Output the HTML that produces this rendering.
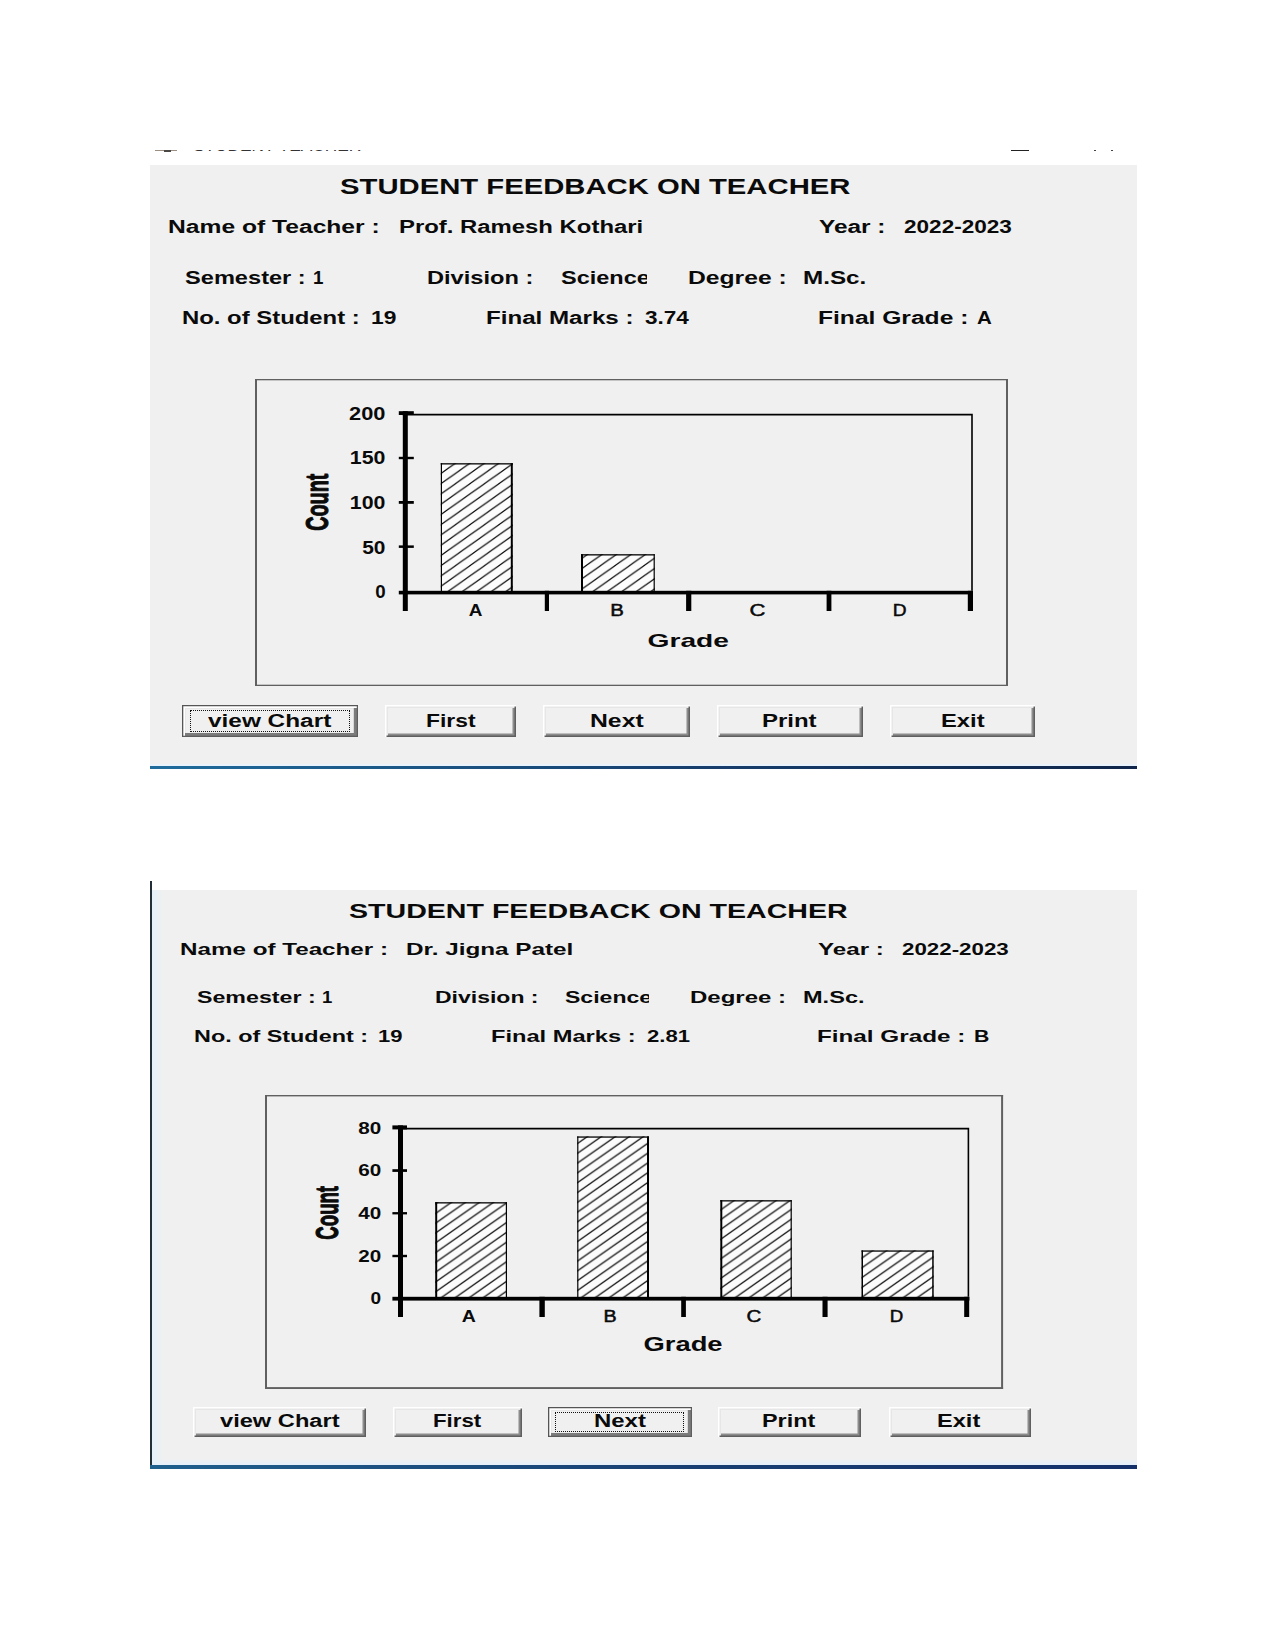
<!DOCTYPE html>
<html lang="en"><head><meta charset="utf-8"><title>Student Feedback on Teacher</title>
<style>
html,body{margin:0;padding:0;background:#fff}
body{width:1275px;height:1650px;position:relative;overflow:hidden;font-family:"Liberation Sans",Arial,sans-serif;color:#0a0a0a}
.win{position:absolute;background:#f0f0f0}
.l,h1.l{position:absolute;margin:0;font-weight:bold;white-space:nowrap;line-height:24px;transform-origin:0 50%;letter-spacing:0}
.clip{position:absolute;height:24px;overflow:hidden}
.chart{position:absolute;overflow:visible}
.chart text{font-family:"Liberation Sans",Arial,sans-serif;fill:#0a0a0a}
.btn{position:absolute;box-sizing:border-box;margin:0;padding:0;background:#f0f0f0;font:inherit;color:inherit;border:0;overflow:hidden;
 box-shadow:inset 1.5px 1.5px 0 #fff,inset -1.5px -1.5px 0 #5f5f5f,inset 3px 3px 0 #e6e6e6,inset -3.5px -3.5px 0 #8c8c8c}
.btn.foc{box-shadow:inset 1.3px 1.3px 0 #555,inset -1.2px -1.2px 0 #5e5e5e,inset 3px 3px 0 #fff,inset -4.2px -4px 0 #7c7c7c,inset 4px 4px 0 #e8e8e8}
.dots{position:absolute;border:1.4px dotted #111;box-sizing:border-box}
.tb{position:absolute;overflow:hidden}
.tt{position:absolute;left:42.8px;top:-12.2px;font-size:17px;line-height:17px;white-space:nowrap;color:#333;transform-origin:0 0;transform:scaleX(1.015)}
</style></head>
<body>
<div class="tb" style="left:150px;top:149.6px;width:987px;height:2.3px"><i style="position:absolute;left:5px;top:.3px;width:22px;height:1.6px;background:#9a8f80"></i><i style="position:absolute;left:14px;top:.6px;width:7px;height:1.7px;background:#4a4845"></i><span class="tt">STUDENT TEACHER</span><i style="position:absolute;left:861px;top:.2px;width:18px;height:1.4px;background:#222"></i><i style="position:absolute;left:943.5px;top:.2px;width:2.2px;height:1.4px;background:#444"></i><i style="position:absolute;left:960.5px;top:.2px;width:2.2px;height:1.4px;background:#444"></i></div>
<div class="win" id="w1" style="left:150px;top:165px;width:987px;height:604px">
<i style="position:absolute;left:0;right:0;bottom:3px;height:2px;background:#eaf3fb"></i>
<i style="position:absolute;left:0;right:0;bottom:0;height:3px;background:linear-gradient(90deg,#1f6c9c,#173f6e 55%,#10264a)"></i>
<h1 class="l" style="left:189.94px;top:9.91px;font-size:21.34px;transform:scaleX(1.3718)">STUDENT FEEDBACK ON TEACHER</h1>
<span class="l" style="left:18.06px;top:49.54px;font-size:17.78px;transform:scaleX(1.3864)">Name of Teacher :</span>
<span class="l" style="left:248.91px;top:49.54px;font-size:17.78px;transform:scaleX(1.3444)">Prof. Ramesh Kothari</span>
<span class="l" style="left:669.22px;top:49.54px;font-size:17.78px;transform:scaleX(1.3731)">Year :</span>
<span class="l" style="left:754.19px;top:49.54px;font-size:17.78px;transform:scaleX(1.2697)">2022-2023</span>
<span class="l" style="left:34.73px;top:100.84px;font-size:17.78px;transform:scaleX(1.3289)">Semester :</span>
<span class="l" style="left:163.23px;top:100.84px;font-size:17.78px;transform:scaleX(1.0558)">1</span>
<span class="l" style="left:277.32px;top:100.84px;font-size:17.78px;transform:scaleX(1.3288)">Division :</span>
<span class="clip" style="left:410.73px;top:100.84px;width:85.87px"><span class="l" style="left:0;top:0;font-size:17.78px;transform:scaleX(1.3219)">Science</span></span>
<span class="l" style="left:537.66px;top:100.84px;font-size:17.78px;transform:scaleX(1.3885)">Degree :</span>
<span class="l" style="left:653.48px;top:100.84px;font-size:17.78px;transform:scaleX(1.3641)">M.Sc.</span>
<span class="l" style="left:31.91px;top:140.94px;font-size:17.78px;transform:scaleX(1.3441)">No. of Student :</span>
<span class="l" style="left:220.67px;top:140.94px;font-size:17.78px;transform:scaleX(1.2840)">19</span>
<span class="l" style="left:335.79px;top:140.94px;font-size:17.78px;transform:scaleX(1.3581)">Final Marks :</span>
<span class="l" style="left:495.05px;top:140.94px;font-size:17.78px;transform:scaleX(1.2688)">3.74</span>
<span class="l" style="left:668.06px;top:140.94px;font-size:17.78px;transform:scaleX(1.3846)">Final Grade :</span>
<span class="l" style="left:827.48px;top:140.94px;font-size:17.78px;transform:scaleX(1.1534)">A</span>
<svg class="chart" style="left:105.2px;top:213.8px" width="753" height="307" viewBox="0 0 753 307">
<defs><pattern id="h1" width="14.5" height="10.25" patternUnits="userSpaceOnUse" x="194.8" y="200.95"><rect width="14.5" height="10.25" fill="#fcfcfc"/><path d="M-14.5 20.5L29 -10.25M-14.5 10.25L14.5 -10.25M0 20.5L29 0" stroke="#000" stroke-width="1.2" fill="none"/></pattern></defs>
<g fill="#606060"><rect x="0" y="0" width="2" height="307"/><rect x="751" y="0" width="2" height="307"/><rect x="0" y="0" width="753" height="1.3"/><rect x="0" y="305.7" width="753" height="1.3"/></g>
<path d="M147.8 35.6H717V211.8" fill="none" stroke="#000" stroke-width="1.6"/>
<rect x="185.8" y="84.2" width="72" height="128.6" fill="url(#h1)"/>
<rect x="185.8" y="84.2" width="1.2" height="128.6"/><rect x="255.8" y="84.2" width="2" height="128.6"/><rect x="185.8" y="84.2" width="72" height="1.3"/>
<rect x="326" y="175.2" width="73.8" height="37.6" fill="url(#h1)"/>
<rect x="326" y="175.2" width="2" height="37.6"/><rect x="398.6" y="175.2" width="1.2" height="37.6"/><rect x="326" y="175.2" width="73.8" height="1.3"/>
<rect x="147.8" y="32.2" width="5" height="199.8" fill="#000"/>
<rect x="143.8" y="211.8" width="574.2" height="3.6" fill="#000"/>
<rect x="143.8" y="32.2" width="15" height="3.8" fill="#000"/>
<rect x="143.8" y="77.8" width="15" height="2.4" fill="#000"/>
<rect x="143.8" y="122" width="15" height="2.8" fill="#000"/>
<rect x="143.8" y="166.4" width="15" height="2.5" fill="#000"/>
<rect x="289.8" y="211.8" width="4.2" height="20.2" fill="#000"/>
<rect x="431.1" y="211.8" width="5.2" height="20.2" fill="#000"/>
<rect x="571.6" y="211.8" width="4.8" height="20.2" fill="#000"/>
<rect x="712.8" y="211.8" width="5.2" height="20.2" fill="#000"/>
<text x="94" y="41" font-size="17.78" font-weight="bold" textLength="36.4" lengthAdjust="spacingAndGlyphs">200</text>
<text x="94.8" y="85.1" font-size="17.5" font-weight="bold" textLength="35.6" lengthAdjust="spacingAndGlyphs">150</text>
<text x="94.8" y="129.6" font-size="17.64" font-weight="bold" textLength="35.6" lengthAdjust="spacingAndGlyphs">100</text>
<text x="107.2" y="174.5" font-size="17.78" font-weight="bold" textLength="23.2" lengthAdjust="spacingAndGlyphs">50</text>
<text x="120.2" y="218.7" font-size="17.78" font-weight="bold" textLength="10.4" lengthAdjust="spacingAndGlyphs">0</text>
<text x="213.8" y="237" font-size="17.21" font-weight="bold" textLength="13.7" lengthAdjust="spacingAndGlyphs">A</text>
<text x="355.3" y="237" font-size="17.21" font-weight="normal" stroke="#0a0a0a" stroke-width="0.5" textLength="13.6" lengthAdjust="spacingAndGlyphs">B</text>
<text x="494.6" y="237" font-size="17.21" font-weight="normal" stroke="#0a0a0a" stroke-width="0.5" textLength="15.9" lengthAdjust="spacingAndGlyphs">C</text>
<text x="637.8" y="237" font-size="17.21" font-weight="normal" stroke="#0a0a0a" stroke-width="0.5" textLength="13.8" lengthAdjust="spacingAndGlyphs">D</text>
<text x="392.6" y="268.3" font-size="18.78" font-weight="bold" textLength="81.4" lengthAdjust="spacingAndGlyphs">Grade</text>
<text transform="translate(73.18 151.85) scale(1.553 1) rotate(-90)" font-size="20.03" font-weight="bold" stroke="#0a0a0a" stroke-width="0.7" stroke-linejoin="round" textLength="57.3" lengthAdjust="spacingAndGlyphs">Count</text>
</svg>
<button type="button" class="btn foc" style="left:32.2px;top:539.7px;width:175.8px;height:32.3px"><span class="l" style="left:26.2px;top:3.89px;font-size:18.49px;transform:scaleX(1.3187)">view Chart</span><i class="dots" style="left:7.6px;top:5.6px;right:7.6px;bottom:5.2px"></i></button>
<button type="button" class="btn" style="left:234.7px;top:539.8px;width:131.5px;height:32.2px"><span class="l" style="left:41.17px;top:3.79px;font-size:18.49px;transform:scaleX(1.2363)">First</span></button>
<button type="button" class="btn" style="left:393.3px;top:539.8px;width:146.3px;height:32.2px"><span class="l" style="left:46.45px;top:3.79px;font-size:18.49px;transform:scaleX(1.3390)">Next</span></button>
<button type="button" class="btn" style="left:566.5px;top:539.8px;width:146.3px;height:32.2px"><span class="l" style="left:45.7px;top:3.79px;font-size:18.49px;transform:scaleX(1.2966)">Print</span></button>
<button type="button" class="btn" style="left:740px;top:539.8px;width:145.4px;height:32.2px"><span class="l" style="left:50.61px;top:3.79px;font-size:18.49px;transform:scaleX(1.2856)">Exit</span></button>
</div>
<div class="win" id="w2" style="left:150px;top:881px;width:987px;height:588px;background:#fff">
<i style="position:absolute;left:0;top:9px;right:0;bottom:0;background:#f0f0f0"></i>
<i style="position:absolute;left:2px;top:9px;width:11px;bottom:0;background:linear-gradient(90deg,#e3f0fc,#f0f0f0)"></i>
<i style="position:absolute;left:0;top:0;width:2.2px;bottom:0;background:#222d3a"></i>
<i style="position:absolute;left:2px;right:0;bottom:4px;height:6.5px;background:linear-gradient(180deg,rgba(240,240,240,0),#e4effb)"></i>
<i style="position:absolute;left:0;right:0;bottom:0;height:4.2px;background:linear-gradient(90deg,#1e5f8e,#173f74 55%,#14306a)"></i>
<h1 class="l" style="left:199.35px;top:17.5px;font-size:20.48px;transform:scaleX(1.3964)">STUDENT FEEDBACK ON TEACHER</h1>
<span class="l" style="left:29.89px;top:55.79px;font-size:17.35px;transform:scaleX(1.3953)">Name of Teacher :</span>
<span class="l" style="left:256.08px;top:55.79px;font-size:17.35px;transform:scaleX(1.4001)">Dr. Jigna Patel</span>
<span class="l" style="left:667.72px;top:55.79px;font-size:17.35px;transform:scaleX(1.3937)">Year :</span>
<span class="l" style="left:751.6px;top:55.79px;font-size:17.35px;transform:scaleX(1.2875)">2022-2023</span>
<span class="l" style="left:46.84px;top:103.99px;font-size:17.35px;transform:scaleX(1.3374)">Semester :</span>
<span class="l" style="left:172.14px;top:103.99px;font-size:17.35px;transform:scaleX(1.0695)">1</span>
<span class="l" style="left:285.16px;top:103.99px;font-size:17.35px;transform:scaleX(1.3258)">Division :</span>
<span class="clip" style="left:414.94px;top:103.99px;width:84.36px"><span class="l" style="left:0;top:0;font-size:17.35px;transform:scaleX(1.3282)">Science</span></span>
<span class="l" style="left:540.1px;top:103.99px;font-size:17.35px;transform:scaleX(1.3838)">Degree :</span>
<span class="l" style="left:653.13px;top:103.99px;font-size:17.35px;transform:scaleX(1.3583)">M.Sc.</span>
<span class="l" style="left:43.74px;top:143.29px;font-size:17.35px;transform:scaleX(1.3479)">No. of Student :</span>
<span class="l" style="left:228.32px;top:143.29px;font-size:17.35px;transform:scaleX(1.2706)">19</span>
<span class="l" style="left:341.02px;top:143.29px;font-size:17.35px;transform:scaleX(1.3635)">Final Marks :</span>
<span class="l" style="left:497.11px;top:143.29px;font-size:17.35px;transform:scaleX(1.2743)">2.81</span>
<span class="l" style="left:667.18px;top:143.29px;font-size:17.35px;transform:scaleX(1.3984)">Final Grade :</span>
<span class="l" style="left:824.37px;top:143.29px;font-size:17.35px;transform:scaleX(1.2262)">B</span>
<svg class="chart" style="left:115px;top:213.8px" width="738.1" height="294" viewBox="0 0 738.1 294">
<defs><pattern id="h2" width="14.0" height="9.8" patternUnits="userSpaceOnUse" x="177.6" y="191.9"><rect width="14.0" height="9.8" fill="#fcfcfc"/><path d="M-14 19.6L28 -9.8M-14 9.8L14 -9.8M0 19.6L28 0" stroke="#000" stroke-width="1.2" fill="none"/></pattern></defs>
<g fill="#606060"><rect x="0" y="0" width="2" height="294"/><rect x="736.1" y="0" width="2" height="294"/><rect x="0" y="0" width="738.1" height="1.4"/><rect x="0" y="292.1" width="738.1" height="1.9"/></g>
<path d="M133 33.6H703.4V201.8" fill="none" stroke="#000" stroke-width="1.6"/>
<rect x="170.2" y="107.2" width="71.8" height="95.6" fill="url(#h2)"/>
<rect x="170.2" y="107.2" width="2" height="95.6"/><rect x="240.8" y="107.2" width="1.2" height="95.6"/><rect x="170.2" y="107.2" width="71.8" height="1.3"/>
<rect x="312.2" y="41.4" width="71.8" height="161.4" fill="url(#h2)"/>
<rect x="312.2" y="41.4" width="1.2" height="161.4"/><rect x="382" y="41.4" width="2" height="161.4"/><rect x="312.2" y="41.4" width="71.8" height="1.3"/>
<rect x="455.3" y="105.2" width="71.5" height="97.6" fill="url(#h2)"/>
<rect x="455.3" y="105.2" width="2" height="97.6"/><rect x="525.6" y="105.2" width="1.2" height="97.6"/><rect x="455.3" y="105.2" width="71.5" height="1.3"/>
<rect x="596.5" y="155.4" width="72.2" height="47.4" fill="url(#h2)"/>
<rect x="596.5" y="155.4" width="1.5" height="47.4"/><rect x="667.2" y="155.4" width="1.5" height="47.4"/><rect x="596.5" y="155.4" width="72.2" height="1.3"/>
<rect x="133" y="30.4" width="5" height="191.6" fill="#000"/>
<rect x="127.4" y="201.8" width="577" height="3.8" fill="#000"/>
<rect x="127.4" y="30.4" width="14.6" height="4" fill="#000"/>
<rect x="127.4" y="74.2" width="14.6" height="2.7" fill="#000"/>
<rect x="127.4" y="117.1" width="14.6" height="2.3" fill="#000"/>
<rect x="127.4" y="159.8" width="14.6" height="2.4" fill="#000"/>
<rect x="274.4" y="201.8" width="5.4" height="20.2" fill="#000"/>
<rect x="416.2" y="201.8" width="4.7" height="20.2" fill="#000"/>
<rect x="557.5" y="201.8" width="5.1" height="20.2" fill="#000"/>
<rect x="699.2" y="201.8" width="5" height="20.2" fill="#000"/>
<text x="93.2" y="39.4" font-size="16.5" font-weight="bold" textLength="23" lengthAdjust="spacingAndGlyphs">80</text>
<text x="93.2" y="81" font-size="16.5" font-weight="bold" textLength="23" lengthAdjust="spacingAndGlyphs">60</text>
<text x="93.2" y="124.4" font-size="16.5" font-weight="bold" textLength="23" lengthAdjust="spacingAndGlyphs">40</text>
<text x="93.2" y="167" font-size="16.5" font-weight="bold" textLength="23" lengthAdjust="spacingAndGlyphs">20</text>
<text x="105.6" y="209.4" font-size="16.5" font-weight="bold" textLength="10.6" lengthAdjust="spacingAndGlyphs">0</text>
<text x="196.8" y="227" font-size="16.22" font-weight="bold" textLength="14.1" lengthAdjust="spacingAndGlyphs">A</text>
<text x="338.5" y="227" font-size="16.22" font-weight="normal" stroke="#0a0a0a" stroke-width="0.5" textLength="13.1" lengthAdjust="spacingAndGlyphs">B</text>
<text x="481.4" y="227" font-size="16.22" font-weight="normal" stroke="#0a0a0a" stroke-width="0.5" textLength="14.8" lengthAdjust="spacingAndGlyphs">C</text>
<text x="624.8" y="227" font-size="16.22" font-weight="normal" stroke="#0a0a0a" stroke-width="0.5" textLength="13.5" lengthAdjust="spacingAndGlyphs">D</text>
<text x="378.5" y="256.5" font-size="19.49" font-weight="bold" textLength="79.1" lengthAdjust="spacingAndGlyphs">Grade</text>
<text transform="translate(72.78 144.65) scale(1.689 1) rotate(-90)" font-size="18.78" font-weight="bold" stroke="#0a0a0a" stroke-width="0.7" stroke-linejoin="round" textLength="53.7" lengthAdjust="spacingAndGlyphs">Count</text>
</svg>
<button type="button" class="btn" style="left:43.4px;top:526.2px;width:172.5px;height:29.8px"><span class="l" style="left:26.5px;top:2.29px;font-size:18.49px;transform:scaleX(1.2791)">view Chart</span></button>
<button type="button" class="btn" style="left:242.5px;top:526.2px;width:129px;height:29.8px"><span class="l" style="left:40.61px;top:2.29px;font-size:18.49px;transform:scaleX(1.2028)">First</span></button>
<button type="button" class="btn foc" style="left:397.9px;top:525.5px;width:143.8px;height:30.5px"><span class="l" style="left:46.2px;top:2.99px;font-size:18.49px;transform:scaleX(1.2952)">Next</span><i class="dots" style="left:7.6px;top:5.6px;right:7.6px;bottom:5.2px"></i></button>
<button type="button" class="btn" style="left:567.8px;top:526.2px;width:143.3px;height:29.8px"><span class="l" style="left:44.44px;top:2.29px;font-size:18.49px;transform:scaleX(1.2624)">Print</span></button>
<button type="button" class="btn" style="left:738.9px;top:526.2px;width:141.9px;height:29.8px"><span class="l" style="left:47.92px;top:2.29px;font-size:18.49px;transform:scaleX(1.2765)">Exit</span></button>
</div>
</body></html>
